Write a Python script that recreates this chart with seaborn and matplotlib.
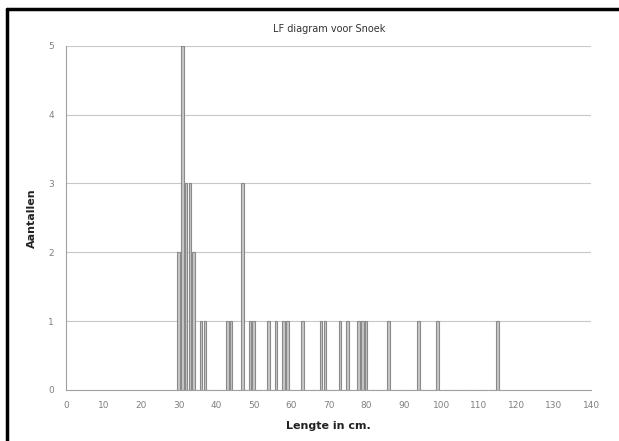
import matplotlib
matplotlib.use("Agg")
import matplotlib.pyplot as plt
import seaborn as sns
import pandas as pd
from matplotlib.lines import Line2D

lengths = [30, 31, 32, 33, 34, 36, 37, 43, 44, 47, 49, 50, 54, 56, 58, 59,
           63, 68, 69, 73, 75, 78, 79, 80, 86, 94, 99, 115]
counts = [2, 5, 3, 3, 2, 1, 1, 1, 1, 3, 1, 1, 1, 1, 1, 1,
          1, 1, 1, 1, 1, 1, 1, 1, 1, 1, 1, 1]
x_ticks = list(range(0, 141, 10))
y_ticks = [0, 1, 2, 3, 4, 5]

df = pd.DataFrame({"Lengte": lengths, "Aantal": counts})

sns.set_style("white")
plt.rcParams['font.family'] = ['DejaVu Sans']

fig = plt.figure(figsize=(6.19, 4.41), dpi=100)
ax = fig.add_axes([0.107, 0.116, 0.848, 0.78])

for y in y_ticks[1:]:
    ax.axhline(y, color="#c8c8c8", lw=0.8, zorder=0)

sns.histplot(data=df, x="Lengte", weights="Aantal", discrete=True, shrink=0.65,
             color="#c8c8c8", edgecolor="#8a8a8a", linewidth=0.8, alpha=1,
             ax=ax, zorder=2)

ax.set_xlim(0, 140)
ax.set_ylim(0, 5)
ax.set_xticks(x_ticks)
ax.set_yticks(y_ticks)
ax.tick_params(axis="both", labelsize=6.5, colors="#9a9a9a", length=3,
               width=0.6, direction="out")
ax.tick_params(axis="both", labelcolor="#808080")
ax.tick_params(axis="y", pad=6)
ax.tick_params(axis="x", pad=5)
for s in ["top", "right"]:
    ax.spines[s].set_visible(False)
for s in ["left", "bottom"]:
    ax.spines[s].set_color("#a0a0a0")
    ax.spines[s].set_linewidth(0.8)

ax.set_title("LF diagram voor Snoek", fontsize=7, pad=10, color="#333333")
ax.set_xlabel("Lengte in cm.", fontsize=8, fontweight="bold", color="#222222", labelpad=8)
ax.set_ylabel("Aantallen", fontsize=8, fontweight="bold", color="#222222", labelpad=8)

# chart border (left and top visible)
fig.add_artist(Line2D([7/619, 7/619], [0, 1 - 9/441], color="black", lw=2.5,
                      transform=fig.transFigure))
fig.add_artist(Line2D([7/619, 1], [1 - 9/441, 1 - 9/441], color="black", lw=2.5,
                      transform=fig.transFigure))

fig.savefig("out.png", dpi=100)
